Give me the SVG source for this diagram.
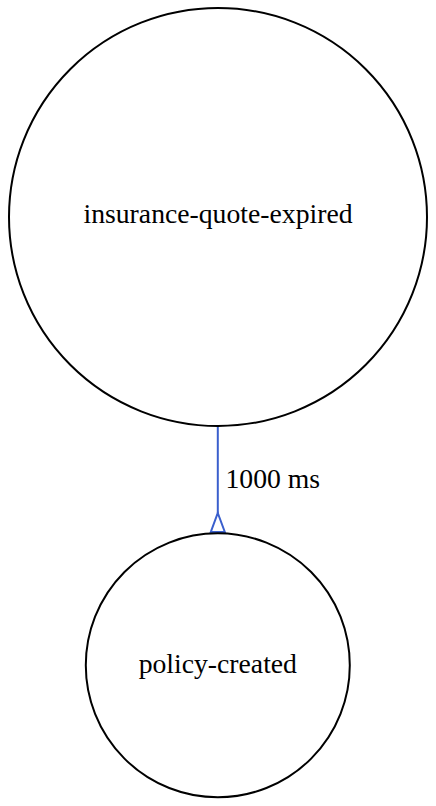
<svg xmlns="http://www.w3.org/2000/svg" width="436" height="806" viewBox="0 0 436 806">
<style>
.node{fill:none;stroke:#000;stroke-width:2}
.lbl{font-family:"Liberation Serif","Times New Roman",serif;font-size:27.7px;fill:#000}
.edge{stroke:#3a5fcd;stroke-width:2;fill:none}
.head{stroke:#3a5fcd;stroke-width:2;fill:#fff}
</style>
<rect width="436" height="806" fill="#fff"/>
<g id="connectors">
<g id="edge1">
<line class="edge" x1="217.8" y1="426" x2="217.8" y2="513"/>
<polygon class="head" points="217.8,513 224.8,532 210.8,532"/>
<text class="lbl" x="225.5" y="488">1000 ms</text>
</g>
</g>
<g id="insurance-quote-expired">
<circle class="node" cx="218" cy="217" r="209"/>
<text class="lbl" x="218" y="223" text-anchor="middle">insurance-quote-expired</text>
</g>
<g id="policy-created">
<circle class="node" cx="217.8" cy="665.3" r="132"/>
<text class="lbl" x="217.8" y="673" text-anchor="middle">policy-created</text>
</g>
</svg>
